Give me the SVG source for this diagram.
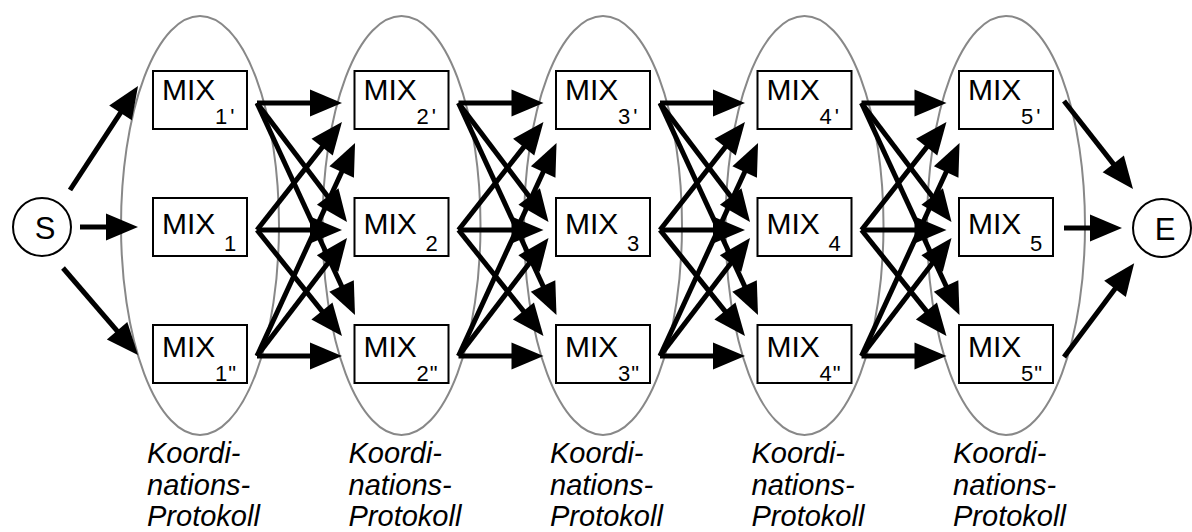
<svg xmlns="http://www.w3.org/2000/svg" xmlns:xlink="http://www.w3.org/1999/xlink" width="1192" height="532" viewBox="0 0 1192 532">
  <style>
    .zone { fill: none; stroke: #888; stroke-width: 2; }
    .box { fill: #fff; stroke: #000; stroke-width: 2; }
    .ring { fill: #fff; stroke: #000; stroke-width: 2; }
    .mix { font-family: "Liberation Sans", Arial, sans-serif; font-size: 30px; fill: #000; }
    .end { font-family: "Liberation Sans", Arial, sans-serif; font-size: 31px; fill: #000; }
    .sub { font-family: "Liberation Sans", Arial, sans-serif; font-size: 22px; fill: #000; }
    .lbl { font-family: "Liberation Sans", Arial, sans-serif; font-size: 29px; font-style: italic; fill: #000; }
    .arr { stroke: #000; stroke-width: 5; fill: none; marker-end: url(#head); }
  </style>
  <defs>
    <marker id="head" markerUnits="userSpaceOnUse" markerWidth="34" markerHeight="28" refX="2" refY="13.5" orient="auto" overflow="visible">
      <path d="M0,0 L32,13.5 L0,27 Z" fill="#000"/>
    </marker>
    <!-- full mesh between two neighbouring columns -->
    <g id="fan">
      <line class="arr" x1="257" y1="103" x2="312" y2="103"/>
      <line class="arr" x1="257" y1="103" x2="328.9" y2="198.1"/>
      <line class="arr" x1="257" y1="103" x2="342.4" y2="287.8"/>
      <line class="arr" x1="257" y1="230" x2="323.4" y2="145.6"/>
      <line class="arr" x1="257" y1="230" x2="312" y2="230"/>
      <line class="arr" x1="257" y1="230" x2="323.2" y2="312.6"/>
      <line class="arr" x1="257" y1="356" x2="342.5" y2="170.2"/>
      <line class="arr" x1="257" y1="356" x2="328.8" y2="261.9"/>
      <line class="arr" x1="257" y1="356" x2="312" y2="356"/>
    </g>
  </defs>

  <rect width="1192" height="532" fill="#fff"/>

  <!-- coordination zones -->
  <g id="zones">
    <ellipse class="zone" cx="200" cy="225.5" rx="79" ry="209.5"/>
    <ellipse class="zone" cx="401.5" cy="225.5" rx="79" ry="209.5"/>
    <ellipse class="zone" cx="603" cy="225.5" rx="79" ry="209.5"/>
    <ellipse class="zone" cx="804.5" cy="225.5" rx="79" ry="209.5"/>
    <ellipse class="zone" cx="1006" cy="225.5" rx="79" ry="209.5"/>
  </g>

  <g id="connectors">
    <line class="arr" x1="70" y1="190" x2="121.6" y2="111.1"/>
    <line class="arr" x1="80" y1="227" x2="108" y2="227"/>
    <line class="arr" x1="63" y1="268" x2="118.4" y2="332.3"/>
    <use xlink:href="#fan" href="#fan"/>
    <use xlink:href="#fan" href="#fan" x="201.5"/>
    <use xlink:href="#fan" href="#fan" x="403"/>
    <use xlink:href="#fan" href="#fan" x="604.5"/>
    <line class="arr" x1="1064" y1="101" x2="1114.5" y2="165.4"/>
    <line class="arr" x1="1064" y1="228" x2="1092" y2="228"/>
    <line class="arr" x1="1064" y1="357" x2="1116.2" y2="287.2"/>
  </g>

  <g id="S">
    <circle class="ring" cx="42" cy="227" r="29"/>
    <text class="end" x="45" y="238.5" text-anchor="middle">S</text>
  </g>
  <g id="E">
    <circle class="ring" cx="1162" cy="228" r="29"/>
    <text class="end" x="1165" y="239.5" text-anchor="middle">E</text>
  </g>

  <!-- column 1 -->
  <g id="mix1a">
    <rect class="box" x="153" y="71" width="94" height="58"/>
    <text class="mix" x="162" y="100">MIX</text>
    <text class="sub" x="215" y="124">1<tspan dx="3">'</tspan></text>
  </g>
  <g id="mix1">
    <rect class="box" x="153" y="198" width="94" height="58"/>
    <text class="mix" x="162" y="234">MIX</text>
    <text class="sub" x="224" y="251">1</text>
  </g>
  <g id="mix1b">
    <rect class="box" x="153" y="325" width="94" height="58"/>
    <text class="mix" x="162" y="357">MIX</text>
    <text class="sub" x="215" y="381">1<tspan dx="1">"</tspan></text>
  </g>

  <!-- column 2 -->
  <g id="mix2a">
    <rect class="box" x="354.5" y="71" width="94" height="58"/>
    <text class="mix" x="363.5" y="100">MIX</text>
    <text class="sub" x="416.5" y="124">2<tspan dx="3">'</tspan></text>
  </g>
  <g id="mix2">
    <rect class="box" x="354.5" y="198" width="94" height="58"/>
    <text class="mix" x="363.5" y="234">MIX</text>
    <text class="sub" x="425.5" y="251">2</text>
  </g>
  <g id="mix2b">
    <rect class="box" x="354.5" y="325" width="94" height="58"/>
    <text class="mix" x="363.5" y="357">MIX</text>
    <text class="sub" x="416.5" y="381">2<tspan dx="1">"</tspan></text>
  </g>

  <!-- column 3 -->
  <g id="mix3a">
    <rect class="box" x="556" y="71" width="94" height="58"/>
    <text class="mix" x="565" y="100">MIX</text>
    <text class="sub" x="618" y="124">3<tspan dx="3">'</tspan></text>
  </g>
  <g id="mix3">
    <rect class="box" x="556" y="198" width="94" height="58"/>
    <text class="mix" x="565" y="234">MIX</text>
    <text class="sub" x="627" y="251">3</text>
  </g>
  <g id="mix3b">
    <rect class="box" x="556" y="325" width="94" height="58"/>
    <text class="mix" x="565" y="357">MIX</text>
    <text class="sub" x="618" y="381">3<tspan dx="1">"</tspan></text>
  </g>

  <!-- column 4 -->
  <g id="mix4a">
    <rect class="box" x="757.5" y="71" width="94" height="58"/>
    <text class="mix" x="766.5" y="100">MIX</text>
    <text class="sub" x="819.5" y="124">4<tspan dx="3">'</tspan></text>
  </g>
  <g id="mix4">
    <rect class="box" x="757.5" y="198" width="94" height="58"/>
    <text class="mix" x="766.5" y="234">MIX</text>
    <text class="sub" x="828.5" y="251">4</text>
  </g>
  <g id="mix4b">
    <rect class="box" x="757.5" y="325" width="94" height="58"/>
    <text class="mix" x="766.5" y="357">MIX</text>
    <text class="sub" x="819.5" y="381">4<tspan dx="1">"</tspan></text>
  </g>

  <!-- column 5 -->
  <g id="mix5a">
    <rect class="box" x="959" y="71" width="94" height="58"/>
    <text class="mix" x="968" y="100">MIX</text>
    <text class="sub" x="1021" y="124">5<tspan dx="3">'</tspan></text>
  </g>
  <g id="mix5">
    <rect class="box" x="959" y="198" width="94" height="58"/>
    <text class="mix" x="968" y="234">MIX</text>
    <text class="sub" x="1030" y="251">5</text>
  </g>
  <g id="mix5b">
    <rect class="box" x="959" y="325" width="94" height="58"/>
    <text class="mix" x="968" y="357">MIX</text>
    <text class="sub" x="1021" y="381">5<tspan dx="1">"</tspan></text>
  </g>

  <!-- zone captions -->
  <g id="captions">
    <text class="lbl" x="147" y="463">Koordi-<tspan x="147" y="495">nations-</tspan><tspan x="147" y="526">Protokoll</tspan></text>
    <text class="lbl" x="348.5" y="463">Koordi-<tspan x="348.5" y="495">nations-</tspan><tspan x="348.5" y="526">Protokoll</tspan></text>
    <text class="lbl" x="550" y="463">Koordi-<tspan x="550" y="495">nations-</tspan><tspan x="550" y="526">Protokoll</tspan></text>
    <text class="lbl" x="751.5" y="463">Koordi-<tspan x="751.5" y="495">nations-</tspan><tspan x="751.5" y="526">Protokoll</tspan></text>
    <text class="lbl" x="953" y="463">Koordi-<tspan x="953" y="495">nations-</tspan><tspan x="953" y="526">Protokoll</tspan></text>
  </g>
</svg>
